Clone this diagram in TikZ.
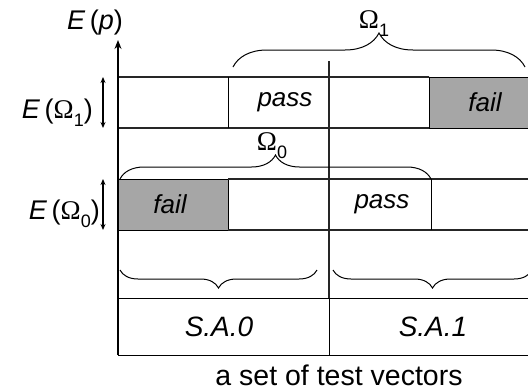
\documentclass[tikz,border=0pt]{standalone}
\usepackage{fontspec}
\setmainfont{Liberation Sans}
\newfontfamily\symf{Liberation Serif}
\usetikzlibrary{decorations.pathreplacing,arrows.meta}
\definecolor{cellgray}{RGB}{166,166,166}
\newcommand{\Om}[1]{{\symf\fontsize{27}{27}\selectfont\char"03A9}\raisebox{-0.3em}{\fontsize{18}{18}\selectfont #1}}
\begin{document}
\begin{tikzpicture}[x=1pt,y=-1pt,
  dotl/.style={line width=1.2pt, black!85, dash pattern=on 0.6pt off 0.4pt},
  solidl/.style={line width=1pt, black},
  failbox/.style={fill=cellgray, draw=black, line width=1pt},
  brc/.style={decorate, decoration={brace, amplitude=#1}, line width=1pt},
  txt/.style={font=\fontsize{27}{27}\selectfont, inner sep=0pt},
  itxt/.style={font=\fontsize{26}{26}\selectfont\itshape, inner sep=0pt},
  darr/.style={{Stealth[length=6pt,width=5pt]}-{Stealth[length=6pt,width=5pt]}, line width=1.2pt}
]
\useasboundingbox (0,0) rectangle (528,391);
\clip (0,0) rectangle (528,391);

% gray cells
\path[failbox] (429,77) rectangle (540,128);
\path[failbox] (118,179) rectangle (228,230);

% row lines
\draw[dotl] (118,77) -- (429,77);
\draw[dotl] (118,128) -- (429,128);
\draw[dotl] (228,179) -- (528,179);
\draw[dotl] (228,230) -- (528,230);
% cell walls
\draw[solidl] (228,77) -- (228,128);
\draw[solidl] (431,179) -- (431,230);
% divider
\draw[dotl] (329,61) -- (329,298);
\draw[solidl] (329,298) -- (329,355);
% bottom box
\draw[solidl] (118,298) -- (528,298);
\draw[solidl] (118,355) -- (528,355);

% axis
\coordinate (ax0) at (118,355);
\coordinate (ax1) at (118,40);
\draw[line width=1.3pt, -{Stealth[length=9pt,width=7pt]}] (ax0) -- (ax1);

% height arrows
\coordinate (h1a) at (103,77); \coordinate (h1b) at (103,128);
\coordinate (h0a) at (103,179); \coordinate (h0b) at (103,230);
\draw[darr] (h1a) -- (h1b);
\draw[darr] (h0a) -- (h0b);

% braces
\draw[brc=34] (233,67) -- (525,67);
\draw[brc=24] (120,179) -- (431,179);
\draw[brc=18] (317,270) -- (120,270);
\draw[brc=18] (532,270) -- (333,270);

% labels
\node[txt] (ep) at (95,23) {\textit{E}\,(\textit{p})};
\node[txt, anchor=base east] (eo1) at (93,118) {\textit{E}\,(\Om{1})};
\node[txt, anchor=base east] (eo0) at (100,219) {\textit{E}\,(\Om{0})};
\node[txt] (o1) at (374,24) {\Om{1}};
\node[txt] (o0) at (272,146) {\Om{0}};

\node[itxt] (p1) at (285,102.5) {pass};
\node[itxt] (f1) at (485,102.5) {fail};
\node[itxt] (f0) at (170,204.5) {fail};
\node[itxt] (p0) at (382,204.5) {pass};

\node[itxt, font=\fontsize{28}{28}\selectfont\itshape] (sa0) at (219,327) {S.A.0};
\node[itxt, font=\fontsize{28}{28}\selectfont\itshape] (sa1) at (433,327) {S.A.1};
\node[txt, font=\fontsize{28.5}{28.5}\selectfont, anchor=base] (tv) at (339,385) {a set of test vectors};
\end{tikzpicture}
\end{document}
